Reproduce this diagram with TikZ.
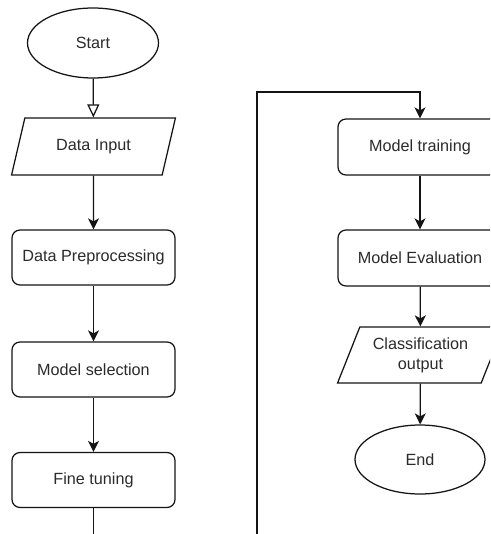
\documentclass[tikz,border=0pt]{standalone}
\usepackage{fontspec}
\setmainfont{Liberation Sans}
\usetikzlibrary{shapes.geometric,arrows.meta}
\definecolor{txt}{HTML}{2B2B2B}
\definecolor{ln}{HTML}{141414}
\tikzset{
  base/.style={draw=ln, line width=1.25pt, text=txt, font=\fontsize{16.2}{20}\selectfont, align=center, inner sep=0pt},
  terminal/.style={base, ellipse, minimum width=131pt, minimum height=70pt},
  process/.style={base, rectangle, rounded corners=8pt, minimum width=163pt, minimum height=55pt},
  io/.style={base, trapezium, trapezium left angle=63.5, trapezium right angle=116.5, trapezium stretches=true, minimum width=164pt, minimum height=57pt},
  conn/.style={draw=ln, line width=1.25pt, -{Stealth[length=11pt, width=11pt, inset=3pt]}},
  openconn/.style={draw=ln, line width=1.25pt, -{Triangle[open, length=13pt, width=12pt]}}
}
\begin{document}
\begin{tikzpicture}[x=1pt, y=-1pt]
\useasboundingbox (0,0) rectangle (490,534);
\fill[white] (0,0) rectangle (490,534);
\clip (0,0) rectangle (490,534);
\node[terminal] (start) at (93,43) {Start};
\node[io] (input) at (93.5,146.5) {Data Input};
\node[process] (prep) at (93.5,257.5) {Data Preprocessing};
\node[process] (sel) at (93.5,369.5) {Model selection};
\node[process] (fine) at (93.5,480) {Fine tuning};
\node[process, minimum width=164pt, minimum height=56pt] (train) at (420,147) {Model training};
\node[process, minimum width=164pt, minimum height=56pt] (eval) at (420,258) {Model Evaluation};
\node[io, minimum width=166pt, minimum height=56pt] (out) at (420.5,355) {Classification\\output};
\node[terminal, minimum width=130pt, minimum height=69pt] (end) at (420,459.5) {End};
\coordinate (turnA) at (257,92);
\draw[openconn] (start) -- (input);
\draw[conn] (input) -- (prep);
\draw[conn] (prep) -- (sel);
\draw[conn] (sel) -- (fine);
\draw[conn] (fine.south) -- ++(0,60) -| (turnA) -| (train.north);
\draw[conn] (train) -- (eval);
\draw[conn] (eval) -- (out);
\draw[conn] (out) -- (end);
\end{tikzpicture}
\end{document}
